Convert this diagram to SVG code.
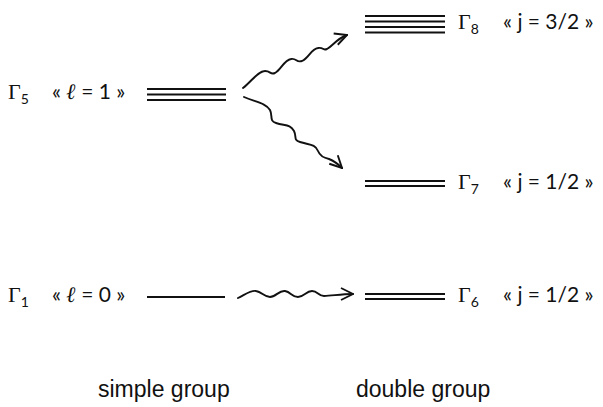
<svg xmlns="http://www.w3.org/2000/svg" width="603" height="407" viewBox="0 0 603 407">
<style>
.lv{stroke:#111;stroke-width:2;fill:none}
.g{font-family:"Liberation Serif","DejaVu Serif",serif;font-size:22px;fill:#111}
.sub{font-family:Lato,"Open Sans",sans-serif;font-size:14px;fill:#111}
.t{font-family:Lato,"Open Sans",sans-serif;font-size:21px;fill:#111}
.ell{font-family:"DejaVu Serif",serif;font-style:italic;font-weight:bold;font-size:22px}
.cap{font-family:"Liberation Sans",Arial,sans-serif;font-size:23px;fill:#111}
.w{stroke:#111;stroke-width:1.9;fill:none;stroke-linecap:round}
</style>
<defs>
<marker id="ah" viewBox="0 0 14 14" refX="13" refY="7" markerWidth="14" markerHeight="14" markerUnits="userSpaceOnUse" orient="auto">
<path d="M1,1 L13,7 L1,13" fill="none" stroke="#111" stroke-width="1.9"/>
</marker>
</defs>
<rect width="603" height="407" fill="#fff"/>
<g id="G5">
<text class="g" x="8" y="99">Γ<tspan class="sub" dy="5">5</tspan></text>
<text class="t" x="52" y="99">« <tspan class="ell">ℓ</tspan> = 1 »</text>
<path class="lv" d="M147,89H226M147,94.5H226M147,100H226"/>
</g>
<g id="G8">
<path class="lv" d="M365,16H445M365,21.5H445M365,27H445M365,32.5H445"/>
<text class="g" x="458" y="29">Γ<tspan class="sub" dy="5">8</tspan></text>
<text class="t" x="503" y="29">« j = 3/2 »</text>
</g>
<g id="G7">
<path class="lv" d="M365,181H445M365,186H445"/>
<text class="g" x="458" y="189">Γ<tspan class="sub" dy="5">7</tspan></text>
<text class="t" x="503" y="189">« j = 1/2 »</text>
</g>
<g id="G1">
<text class="g" x="8" y="302">Γ<tspan class="sub" dy="5">1</tspan></text>
<text class="t" x="52" y="302">« <tspan class="ell">ℓ</tspan> = 0 »</text>
<path class="lv" d="M147,297H225"/>
</g>
<g id="G6">
<path class="lv" d="M365,294H445M365,299H445"/>
<text class="g" x="458" y="302">Γ<tspan class="sub" dy="5">6</tspan></text>
<text class="t" x="503" y="302">« j = 1/2 »</text>
</g>
<g id="connectors">
<path class="w" marker-end="url(#ah)" d="M243,88 C252,81 258,71 265,71 C271,71 270,75 275,73 C281,70 284,60 291,59 C297,58 296,63 302,61 C309,58 311,49 318,48 C324,47 322,51 327,49 C333,46 336,39 347,35"/>
<path class="w" marker-end="url(#ah)" d="M244,97 C255,102 266,103 270,110 C273,116 269,121 276,123 C285,126 290,124 294,131 C297,137 293,140 300,142 C310,145 315,144 318,151 C320,156 324,158 329,159 C334,161 338,164 342,168"/>
<path class="w" marker-end="url(#ah)" d="M238,298 C246,294 251,290 256,291 C262,292 264,297 270,297 C276,297 279,290 285,291 C291,292 292,297 298,297 C304,297 306,291 312,291 C318,291 318,296 324,296 C332,296 340,294 353,294"/>
</g>
<text class="cap" x="98" y="397">simple group</text>
<text class="cap" x="356" y="397">double group</text>
</svg>
